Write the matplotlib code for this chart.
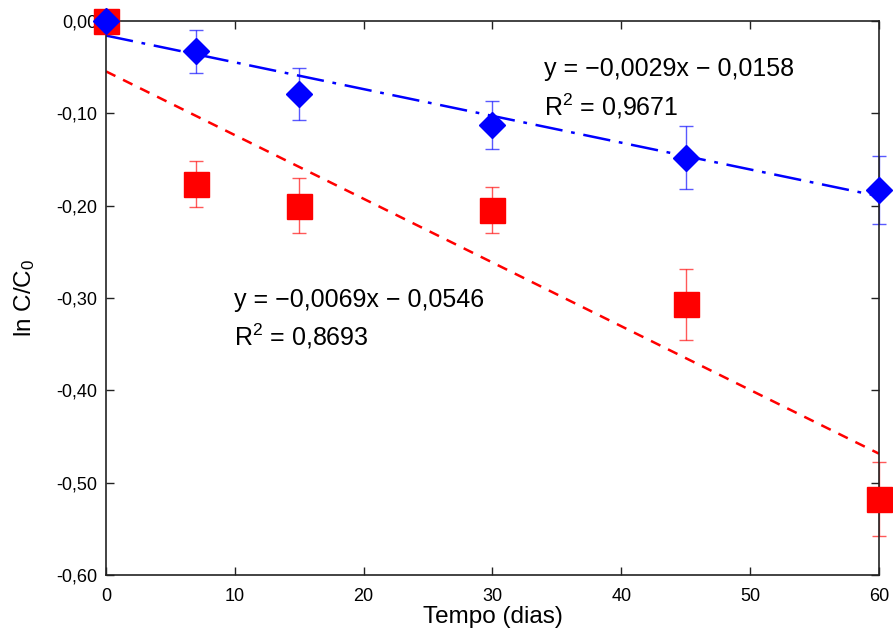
import numpy as np
import matplotlib
matplotlib.use("Agg")
import matplotlib.pyplot as plt

plt.rcParams['font.family'] = ['Liberation Sans', 'DejaVu Sans']
plt.rcParams['mathtext.default'] = 'regular'

# dados
tempo = [0, 7, 15, 30, 45, 60]
ln_azul = [0.0, -0.033, -0.079, -0.113, -0.148, -0.183]
err_azul = [0.0, 0.023, 0.028, 0.026, 0.034, 0.037]
ln_verm = [0.0, -0.177, -0.200, -0.205, -0.307, -0.518]
err_verm = [0.0, 0.025, 0.030, 0.025, 0.038, 0.040]

# regressões (coeficientes das equações)
a_azul, b_azul = -0.0029, -0.0158
a_verm, b_verm = -0.0069, -0.0546
x_reta = [0, 60]

xticks = [0, 10, 20, 30, 40, 50, 60]
yticks = [0.0, -0.1, -0.2, -0.3, -0.4, -0.5, -0.6]
ytick_labels = ['0,00', '-0,10', '-0,20', '-0,30', '-0,40', '-0,50', '-0,60']

fig = plt.figure(figsize=(8.93, 6.30), dpi=100)
ax = fig.add_axes([0.1187, 0.0873, 0.8656, 0.8794])

# linhas de tendência
y_verm = [a_verm * x + b_verm for x in x_reta]
y_azul = [a_azul * x + b_azul for x in x_reta]
ax.plot(x_reta, y_verm, color='red', lw=1.8, dashes=(4.2, 3.4))
ax.plot(x_reta, y_azul, color='blue', lw=1.8, dashes=(11, 3.5, 1.5, 3.5))

# pontos com barras de erro
ax.errorbar(tempo, ln_verm, yerr=err_verm, fmt='none', ecolor='red',
            elinewidth=1, capsize=5, capthick=1, alpha=0.65, clip_on=False)
ax.plot(tempo, ln_verm, 's', color='red', ms=18, mec='red', clip_on=False, zorder=4)
ax.errorbar(tempo, ln_azul, yerr=err_azul, fmt='none', ecolor='blue',
            elinewidth=1, capsize=5, capthick=1, alpha=0.65, clip_on=False)
ax.plot(tempo, ln_azul, 'D', color='blue', ms=13.5, mec='blue', clip_on=False, zorder=5)

# equações
ax.text(34, -0.060, 'y = \u22120,0029x \u2212 0,0158', fontsize=18)
ax.text(34, -0.1026, 'R$^2$ = 0,9671', fontsize=18)
ax.text(9.9, -0.3095, 'y = \u22120,0069x \u2212 0,0546', fontsize=18)
ax.text(9.9, -0.3518, 'R$^2$ = 0,8693', fontsize=18)

ax.set_xlim(0, 60)
ax.set_ylim(-0.6, 0)
ax.set_xticks(xticks)
ax.set_xticklabels([str(t) for t in xticks])
ax.set_yticks(yticks)
ax.set_yticklabels(ytick_labels)
ax.tick_params(direction='in', length=6, width=1, top=True, right=True,
               labelsize=13, color='#222222')
ax.tick_params(axis='x', pad=9)
ax.tick_params(axis='y', pad=6)
for s in ax.spines.values():
    s.set_linewidth(1.2)
    s.set_color('#222222')

ax.set_xlabel('Tempo (dias)', fontsize=17.5, labelpad=1)
ax.set_ylabel('ln C/C$_0$', fontsize=17.5, labelpad=14)

fig.savefig('out.png', dpi=100)
